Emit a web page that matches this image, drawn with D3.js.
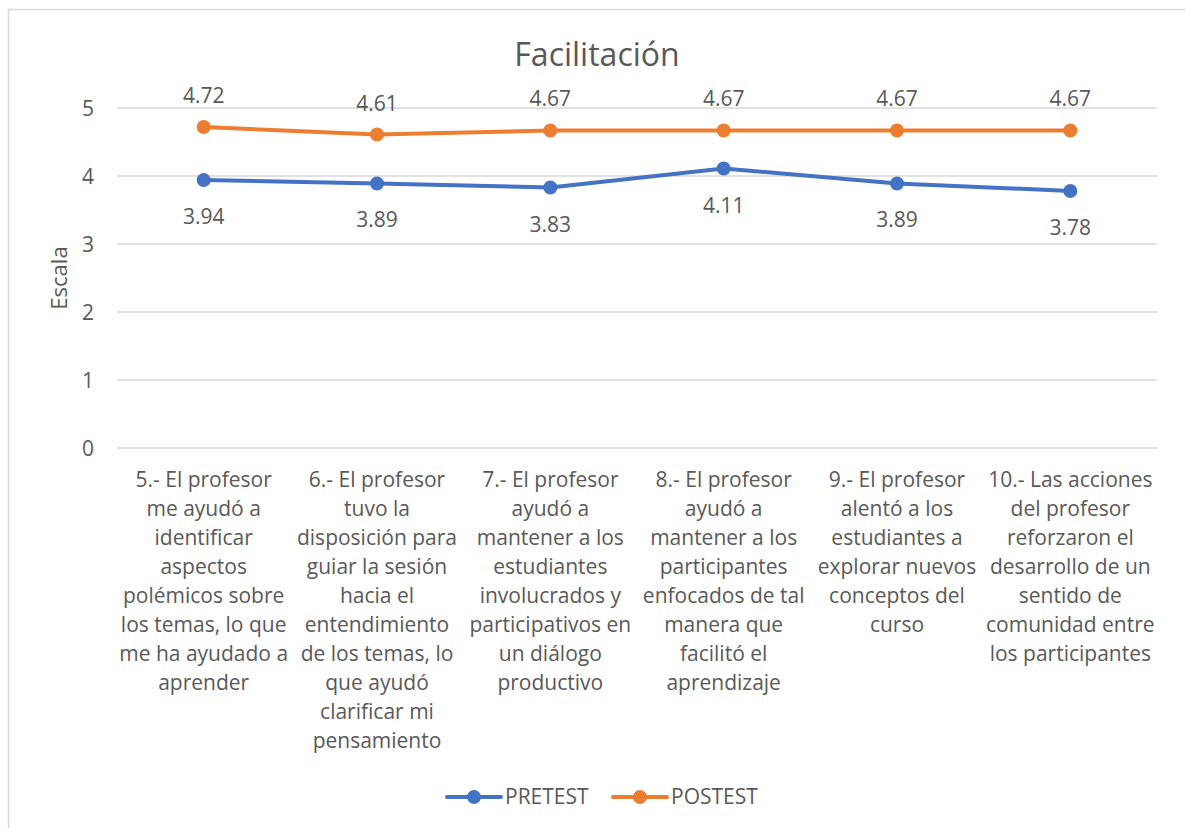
<!DOCTYPE html>
<html>
<head>
<meta charset="utf-8">
<script src="https://cdn.jsdelivr.net/npm/d3@7"></script>
<style>
    body { margin: 0; background: #fff; }
    svg text { font-family: "Open Sans", sans-serif; fill: #595959; }
</style>
</head>
<body>
<div id="chart"></div>
<script>
    // category labels, already broken into lines like the original
    var categories = [
        ["5.- El profesor", "me ayudó a", "identificar", "aspectos", "polémicos sobre", "los temas, lo que", "me ha ayudado a", "aprender"],
        ["6.- El profesor", "tuvo la", "disposición para", "guiar la sesión", "hacia el", "entendimiento", "de los temas, lo", "que ayudó", "clarificar mi", "pensamiento"],
        ["7.- El profesor", "ayudó a", "mantener a los", "estudiantes", "involucrados y", "participativos en", "un diálogo", "productivo"],
        ["8.- El profesor", "ayudó a", "mantener a los", "participantes", "enfocados de tal", "manera que", "facilitó el", "aprendizaje"],
        ["9.- El profesor", "alentó a los", "estudiantes a", "explorar nuevos", "conceptos del", "curso"],
        ["10.- Las acciones", "del profesor", "reforzaron el", "desarrollo de un", "sentido de", "comunidad entre", "los participantes"]
    ];
    var pretest = [3.94, 3.89, 3.83, 4.11, 3.89, 3.78];
    var postest = [4.72, 4.61, 4.67, 4.67, 4.67, 4.67];
    var yTicks = [0, 1, 2, 3, 4, 5];

    var series = [
        {name: "PRETEST", values: pretest, color: "#4472C4", labelDy: 44},
        {name: "POSTEST", values: postest, color: "#ED7D31", labelDy: -24}
    ];

    var width = 1185,
        height = 828,
        plotLeft = 117,
        plotRight = 1157,
        plotTop = 108,
        plotBottom = 448,
        fontSize = 21;

    var svg = d3.select("#chart").append("svg")
                .attr("width", width)
                .attr("height", height);

    // chart frame
    svg.append("rect")
       .attr("x", 8.5).attr("y", 9.5)
       .attr("width", 1200).attr("height", 900)
       .style("fill", "none")
       .style("stroke", "#D9D9D9")
       .style("stroke-width", 1.5);

    var x = d3.scaleBand()
              .domain(d3.range(categories.length))
              .range([plotLeft, plotRight]);

    var y = d3.scaleLinear()
              .domain([0, 5])
              .range([plotBottom, plotTop]);

    //gridlines
    svg.append("g").selectAll("line")
       .data(yTicks)
       .enter().append("line")
       .attr("x1", plotLeft).attr("x2", plotRight)
       .attr("y1", function(d) {return y(d); })
       .attr("y2", function(d) {return y(d); })
       .style("stroke", "#D9D9D9")
       .style("stroke-width", 1.5);

    var yAxis = svg.append("g")
                   .attr("transform", "translate(" + (plotLeft - 23) + ",0)")
                   .call(d3.axisLeft(y).tickValues(yTicks).tickFormat(d3.format("d")).tickSize(0).tickPadding(0));
    yAxis.select(".domain").remove();
    yAxis.attr("font-family", null).attr("font-size", null);
    yAxis.selectAll("text")
         .style("font-size", fontSize + "px")
         .attr("fill", "#595959")
         .attr("dy", "0.35em");

    svg.append("text")
       .attr("transform", "translate(67,278) rotate(-90)")
       .attr("text-anchor", "middle")
       .style("font-size", "22px")
       .text("Escala");

    svg.append("text")
       .attr("x", 597).attr("y", 66)
       .attr("text-anchor", "middle")
       .style("font-size", "32px")
       .text("Facilitación");

    // category labels
    var catGroups = svg.append("g").selectAll("text")
                       .data(categories)
                       .enter().append("text")
                       .attr("text-anchor", "middle")
                       .style("font-size", fontSize + "px");
    catGroups.selectAll("tspan")
             .data(function(d, i) {return d.map(function(l) {return {line: l, i: i}; }); })
             .enter().append("tspan")
             .attr("x", function(d) {return x(d.i) + x.bandwidth() / 2; })
             .attr("y", function(d, j) {return 487 + j * 29; })
             .text(function(d) {return d.line; });

    var line = d3.line()
                 .x(function(d, i) {return x(i) + x.bandwidth() / 2; })
                 .y(function(d) {return y(d); });

    var sg = svg.append("g").selectAll(".series")
                .data(series)
                .enter().append("g")
                .attr("class", "series");

    sg.append("path")
      .attr("d", function(d) {return line(d.values); })
      .style("fill", "none")
      .style("stroke", function(d) {return d.color; })
      .style("stroke-width", 4)
      .style("stroke-linecap", "round");

    sg.selectAll("circle")
      .data(function(d) {return d.values.map(function(v) {return {v: v, c: d.color}; }); })
      .enter().append("circle")
      .attr("cx", function(d, i) {return x(i) + x.bandwidth() / 2; })
      .attr("cy", function(d) {return y(d.v); })
      .attr("r", 7)
      .style("fill", function(d) {return d.c; });

    sg.selectAll(".dataLabel")
      .data(function(d) {return d.values.map(function(v) {return {v: v, dy: d.labelDy}; }); })
      .enter().append("text")
      .attr("class", "dataLabel")
      .attr("text-anchor", "middle")
      .attr("x", function(d, i) {return x(i) + x.bandwidth() / 2; })
      .attr("y", function(d) {return y(d.v) + d.dy; })
      .style("font-size", fontSize + "px")
      .text(function(d) {return d.v.toFixed(2); });

    // legend
    var legend = svg.append("g").selectAll(".legendItem")
                    .data(series)
                    .enter().append("g")
                    .attr("class", "legendItem")
                    .attr("transform", function(d, i) {return "translate(" + (447 + i * 166) + ",797)"; });
    legend.append("line")
          .attr("x1", 0).attr("x2", 54)
          .style("stroke", function(d) {return d.color; })
          .style("stroke-width", 4)
          .style("stroke-linecap", "round");
    legend.append("circle")
          .attr("cx", 27).attr("r", 7)
          .style("fill", function(d) {return d.color; });
    legend.append("text")
          .attr("x", 58).attr("y", 7)
          .style("font-size", fontSize + "px")
          .text(function(d) {return d.name; });
</script>
</body>
</html>
